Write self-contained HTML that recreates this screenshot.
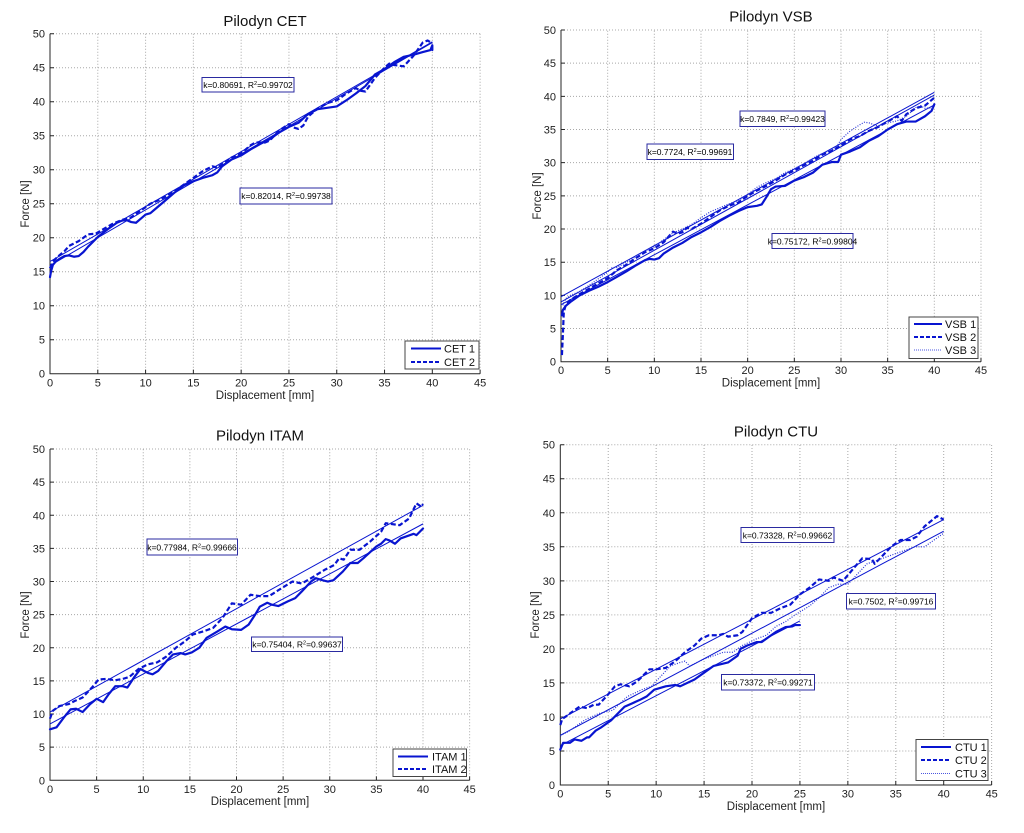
<!DOCTYPE html>
<html><head><meta charset="utf-8"><style>
html,body{margin:0;padding:0;background:#fff}
svg{display:block;font-family:"Liberation Sans",Arial,sans-serif}
.s{fill:none;stroke:#0814d0;stroke-width:2.2;vector-effect:non-scaling-stroke;stroke-linejoin:round;stroke-linecap:round}
.ds{stroke-dasharray:5 2.5;stroke-linecap:butt}
.dt{stroke-width:1.2;stroke-dasharray:1 1.5;stroke:#2a36d8;stroke-linecap:butt}
.f{fill:none;stroke:#0814d0;stroke-width:1;vector-effect:non-scaling-stroke}
.g{fill:none;stroke:#a8a8a8;stroke-width:1;stroke-dasharray:1 2;vector-effect:non-scaling-stroke}
.ax{fill:none;stroke:#262626;stroke-width:1;vector-effect:non-scaling-stroke}
.t{font-size:11px;fill:#222}
.yl text{text-anchor:end}
.xl text{text-anchor:middle}
.ti{font-size:15px;text-anchor:middle;fill:#111}
.lab{font-size:11.5px;text-anchor:middle;fill:#222}
.bx{fill:#fff;stroke:#2a2aa0;stroke-width:1}
.bt{font-size:8.5px;text-anchor:middle;fill:#000}
.lg{fill:#fff;stroke:#444;stroke-width:1}
.lt{font-size:11px;fill:#111}
</style></head><body>
<svg width="1024" height="833" viewBox="0 0 1024 833" xmlns="http://www.w3.org/2000/svg">
<rect width="1024" height="833" fill="#fff"/>

<!-- ================= TOP LEFT: CET ================= -->
<g transform="translate(50,373.7) scale(9.558,-6.8)">
<path class="g" d="M5 0V50M10 0V50M15 0V50M20 0V50M25 0V50M30 0V50M35 0V50M40 0V50M45 0V50M0 5H45M0 10H45M0 15H45M0 20H45M0 25H45M0 30H45M0 35H45M0 40H45M0 45H45M0 50H45"/>
<path class="ax" d="M0 50V0H45M5 0V0.6M10 0V0.6M15 0V0.6M20 0V0.6M25 0V0.6M30 0V0.6M35 0V0.6M40 0V0.6M45 0V0.6M0 5H0.42M0 10H0.42M0 15H0.42M0 20H0.42M0 25H0.42M0 30H0.42M0 35H0.42M0 40H0.42M0 45H0.42M0 50H0.42"/>
<path class="f" d="M0 16.5L40 48.8M0 15.9L40 48.7"/>
<polyline class="s" points="0,14.2 0.1,15 0.3,16 0.6,16.5 1,16.9 1.5,17.3 2,17.4 2.5,17.2 3,17.3 3.5,17.9 4,18.7 5,20.1 6,21.2 7,22.2 7.5,22.5 8,22.6 8.5,22.3 9,22.2 9.5,22.8 10,23.4 10.5,23.6 11,24.2 12,25.4 13,26.6 14,27.7 15,28.3 16,28.8 17,29.2 17.5,29.6 18,30.5 19,31.5 20,32.1 21,33 22,33.8 23,34.5 24,35.5 25,36.3 26,36.9 27,38.2 28,38.9 29,39.1 30,39.3 31,40.2 32,41.2 33,42.3 34,44 35,44.8 36,45.8 37,46.6 38,46.9 39,47.3 39.8,47.6 40,48.3 40,47.6"/>
<polyline class="s ds" points="0,15.5 0.3,16.5 0.8,17.2 1.5,18 2,18.8 3,19.5 4,20.5 4.8,20.6 5.5,21.2 6.5,22 7.5,22.6 8.5,23 9.5,24 10.5,25 11.5,25.6 12,26 13,26.8 14,27.8 15,28.8 16,29.8 17,30.5 17.5,30.3 18,30.8 19,31.8 20,32.4 21,33.6 21.5,34 22.5,34 23,34.3 24,35.8 25,36.7 25.5,36.2 26,36 26.5,36.5 27,37.8 28,39 29,39.8 29.5,40 30,40.2 31,41.2 32,42 32.5,41.6 33,41.5 34,43.5 35,45 35.5,45.6 36,45.4 37,45.2 38,46.7 39,48.7 39.5,49 40,48.6"/>
</g>
<g class="t yl">
<text x="45" y="377.7">0</text><text x="45" y="343.7">5</text><text x="45" y="309.7">10</text><text x="45" y="275.7">15</text><text x="45" y="241.7">20</text><text x="45" y="207.7">25</text><text x="45" y="173.7">30</text><text x="45" y="139.7">35</text><text x="45" y="105.7">40</text><text x="45" y="71.7">45</text><text x="45" y="37.7">50</text>
</g>
<g class="t xl">
<text x="50" y="386.5">0</text><text x="97.8" y="386.5">5</text><text x="145.6" y="386.5">10</text><text x="193.4" y="386.5">15</text><text x="241.2" y="386.5">20</text><text x="289" y="386.5">25</text><text x="336.7" y="386.5">30</text><text x="384.5" y="386.5">35</text><text x="432.3" y="386.5">40</text><text x="480.1" y="386.5">45</text>
</g>
<text class="ti" x="265" y="26">Pilodyn CET</text>
<text class="lab" x="265" y="399">Displacement [mm]</text>
<text class="lab" transform="translate(29,204) rotate(-90)">Force [N]</text>
<rect class="bx" x="202" y="77.5" width="92" height="14.5"/>
<text class="bt" x="248" y="88">k=0.80691, R<tspan dy="-3" font-size="5.5">2</tspan><tspan dy="3">=0.99702</tspan></text>
<rect class="bx" x="240" y="188" width="92" height="16"/>
<text class="bt" x="286" y="199">k=0.82014, R<tspan dy="-3" font-size="5.5">2</tspan><tspan dy="3">=0.99738</tspan></text>
<rect class="lg" x="405" y="341" width="74" height="28"/>
<line x1="411" y1="348.5" x2="441" y2="348.5" stroke="#0814d0" stroke-width="2"/>
<line x1="411" y1="362" x2="441" y2="362" stroke="#0814d0" stroke-width="2" stroke-dasharray="4 2"/>
<text class="lt" x="444" y="352.5">CET 1</text>
<text class="lt" x="444" y="366">CET 2</text>

<!-- ================= TOP RIGHT: VSB ================= -->
<g transform="translate(561,361.7) scale(9.333,-6.634)">
<path class="g" d="M5 0V50M10 0V50M15 0V50M20 0V50M25 0V50M30 0V50M35 0V50M40 0V50M45 0V50M0 5H45M0 10H45M0 15H45M0 20H45M0 25H45M0 30H45M0 35H45M0 40H45M0 45H45M0 50H45"/>
<path class="ax" d="M0 50V0H45M5 0V0.6M10 0V0.6M15 0V0.6M20 0V0.6M25 0V0.6M30 0V0.6M35 0V0.6M40 0V0.6M45 0V0.6M0 5H0.42M0 10H0.42M0 15H0.42M0 20H0.42M0 25H0.42M0 30H0.42M0 35H0.42M0 40H0.42M0 45H0.42M0 50H0.42"/>
<path class="f" d="M0 9.8L40 40.6M0 9.0L40 40.2M0 8.6L40 38.7"/>
<polyline class="s" points="0.1,7 0.2,7.8 0.5,8.4 1,9 2,10 3,10.7 4,11.3 5,12 6,12.8 7,13.6 8,14.5 9,15.3 9.5,15.5 10,15.4 10.5,15.6 11,16.3 12,17.2 13,17.9 14,18.8 15,19.5 16,20.3 17,21.2 18,22 19,22.7 20,23.3 21,23.5 21.5,23.7 22,24.8 22.5,26 23,26.4 24,26.5 25,27.3 26,27.8 27,28.5 28,29.7 29,30.1 29.7,30.1 30,31.2 31,31.7 32,32.3 33,33.3 34,34 35,35 36,35.8 37,36.2 38,36.2 39,37 39.7,37.8 40,38.8"/>
<polyline class="s ds" points="0.1,1 0.2,4 0.3,7.5 0.5,8.5 1,9.3 2,10.2 3,11 4,11.8 5,12.6 6,13.8 7,14.6 8,15.6 9,16.5 10,17.1 11,18 12,19.6 12.5,19.3 13,19.5 13.5,20.2 14,20 15,20.8 16,21.8 17,22.8 18,23.5 19,24 20,25 21,25.8 22,26.5 23,27.3 24,28.2 25,28.8 26,29.6 27,30.3 28,31.2 29,31.8 30,32.6 31,33.5 32,34 33,34.8 34,35.4 35,36.2 36,37 36.5,36.3 37,37.3 38,38.2 39,38.6 40,39.8"/>
<polyline class="s dt" points="0.2,8.5 0.5,9.5 1,10 2,10.6 3,11.5 4,12.5 5,13.5 5.5,14.2 6,14.2 7,15 8,15.8 9,16.7 10,17.3 11,18.4 12,19.4 13,20 14,20.7 15,21.7 16,22.6 17,23.2 18,23.8 19,24.3 20,25.2 21,26.3 22,27 23,27.6 24,28.5 25,29.1 26,29.8 27,30.7 28,31.4 29,31.9 29.5,32.3 30,33.5 31,34.8 32,35.7 32.5,36.1 33,36 34,35.5 35,36 36,36.3 37,37 38,38.3 38.5,38.6 39,38.2 40,38.3"/>
</g>
<g class="t yl">
<text x="556" y="365.7">0</text><text x="556" y="332.5">5</text><text x="556" y="299.4">10</text><text x="556" y="266.2">15</text><text x="556" y="233">20</text><text x="556" y="199.9">25</text><text x="556" y="166.7">30</text><text x="556" y="133.5">35</text><text x="556" y="100.4">40</text><text x="556" y="67.2">45</text><text x="556" y="34">50</text>
</g>
<g class="t xl">
<text x="561" y="374">0</text><text x="607.7" y="374">5</text><text x="654.3" y="374">10</text><text x="701" y="374">15</text><text x="747.6" y="374">20</text><text x="794.3" y="374">25</text><text x="841" y="374">30</text><text x="887.6" y="374">35</text><text x="934.3" y="374">40</text><text x="981" y="374">45</text>
</g>
<text class="ti" x="771" y="21.5">Pilodyn VSB</text>
<text class="lab" x="771" y="386.5">Displacement [mm]</text>
<text class="lab" transform="translate(541,196) rotate(-90)">Force [N]</text>
<rect class="bx" x="740" y="111" width="85" height="15.5"/>
<text class="bt" x="782.5" y="122">k=0.7849, R<tspan dy="-3" font-size="5.5">2</tspan><tspan dy="3">=0.99423</tspan></text>
<rect class="bx" x="647" y="144" width="86.5" height="15.5"/>
<text class="bt" x="690" y="155">k=0.7724, R<tspan dy="-3" font-size="5.5">2</tspan><tspan dy="3">=0.99691</tspan></text>
<rect class="bx" x="772" y="233.5" width="81" height="15"/>
<text class="bt" x="812.5" y="244.5">k=0.75172, R<tspan dy="-3" font-size="5.5">2</tspan><tspan dy="3">=0.99804</tspan></text>
<rect class="lg" x="909" y="317" width="69" height="41.5"/>
<line x1="914" y1="324" x2="942" y2="324" stroke="#0814d0" stroke-width="2"/>
<line x1="914" y1="337" x2="942" y2="337" stroke="#0814d0" stroke-width="2" stroke-dasharray="4 2"/>
<line x1="914" y1="350" x2="942" y2="350" stroke="#4a56e0" stroke-width="1" stroke-dasharray="1 1"/>
<text class="lt" x="945" y="328">VSB 1</text>
<text class="lt" x="945" y="341">VSB 2</text>
<text class="lt" x="945" y="354">VSB 3</text>

<!-- ================= BOTTOM LEFT: ITAM ================= -->
<g transform="translate(50,780.3) scale(9.325,-6.626)">
<path class="g" d="M5 0V50M10 0V50M15 0V50M20 0V50M25 0V50M30 0V50M35 0V50M40 0V50M45 0V50M0 5H45M0 10H45M0 15H45M0 20H45M0 25H45M0 30H45M0 35H45M0 40H45M0 45H45M0 50H45"/>
<path class="ax" d="M0 50V0H45M5 0V0.6M10 0V0.6M15 0V0.6M20 0V0.6M25 0V0.6M30 0V0.6M35 0V0.6M40 0V0.6M45 0V0.6M0 5H0.42M0 10H0.42M0 15H0.42M0 20H0.42M0 25H0.42M0 30H0.42M0 35H0.42M0 40H0.42M0 45H0.42M0 50H0.42"/>
<path class="f" d="M0 10.3L40 41.5M0 8.5L40 38.7"/>
<polyline class="s" points="0,7.7 0.7,8 1.5,9.5 2.2,10.7 2.8,10.8 3.5,10.3 4.3,11.5 5,12.3 5.7,11.8 6.3,13 7,14.2 7.8,14.2 8.3,14 9,15.5 9.7,16.8 10.5,16.2 11,16 11.6,16.5 12.5,18 13.2,19 14,19.2 14.5,19 15.2,19.3 16,20 16.8,21.5 18,22.5 18.8,23.2 19.5,22.8 20.5,22.7 21.3,23.5 22,25 22.5,26.2 23.3,26.8 23.8,26.5 24.5,26.3 25.5,27 26.3,27.5 27,28.5 28,30 28.5,30.5 29.2,30.2 29.8,30 30.4,30.2 31.4,31.5 32.2,32.8 33,32.8 33.6,33.5 35,35.3 35.5,35.7 36,36.4 36.4,36.2 37,35.7 37.6,36.5 38.2,36.8 39,37.2 39.3,37 40,38"/>
<polyline class="s ds" points="0,9.3 0.3,10.5 1,11.2 2,11.5 2.7,12 3.5,12.5 4.5,14 5.2,15.2 6,15.3 7,15.1 7.8,15.3 8.5,15.6 9.5,16.8 10.5,17.5 11.5,17.8 12.5,18.7 13.5,20 14.5,21 15.3,22 16.5,22.5 17.5,23 18.5,24.5 19.5,26.7 20.5,26.5 21.5,28 22.5,27.8 23.5,27.8 24.5,28.7 26,30 27,29.7 28,30.5 29.5,31.8 30.5,32.5 31,33.5 31.5,33.3 32.2,34.8 33.2,34.8 34.3,36 35.5,37.5 36,38.8 37.5,38.5 38.5,39.5 39.3,41.8 39.8,41.3 40,41.7"/>
</g>
<g class="t yl">
<text x="45" y="784.3">0</text><text x="45" y="751.2">5</text><text x="45" y="718">10</text><text x="45" y="684.9">15</text><text x="45" y="651.8">20</text><text x="45" y="618.6">25</text><text x="45" y="585.5">30</text><text x="45" y="552.4">35</text><text x="45" y="519.3">40</text><text x="45" y="486.1">45</text><text x="45" y="453">50</text>
</g>
<g class="t xl">
<text x="50" y="793">0</text><text x="96.6" y="793">5</text><text x="143.3" y="793">10</text><text x="189.9" y="793">15</text><text x="236.5" y="793">20</text><text x="283.1" y="793">25</text><text x="329.8" y="793">30</text><text x="376.4" y="793">35</text><text x="423" y="793">40</text><text x="469.6" y="793">45</text>
</g>
<text class="ti" x="260" y="440.5">Pilodyn ITAM</text>
<text class="lab" x="260" y="805">Displacement [mm]</text>
<text class="lab" transform="translate(29,615) rotate(-90)">Force [N]</text>
<rect class="bx" x="147" y="539" width="90.5" height="16"/>
<text class="bt" x="192" y="550.5">k=0.77984, R<tspan dy="-3" font-size="5.5">2</tspan><tspan dy="3">=0.99666</tspan></text>
<rect class="bx" x="251.5" y="637" width="91" height="14.5"/>
<text class="bt" x="297" y="647.5">k=0.75404, R<tspan dy="-3" font-size="5.5">2</tspan><tspan dy="3">=0.99637</tspan></text>
<rect class="lg" x="393" y="749" width="73.5" height="27.5"/>
<line x1="398" y1="756.5" x2="428" y2="756.5" stroke="#0814d0" stroke-width="2"/>
<line x1="398" y1="769" x2="428" y2="769" stroke="#0814d0" stroke-width="2" stroke-dasharray="4 2"/>
<text class="lt" x="432" y="760.5">ITAM 1</text>
<text class="lt" x="432" y="773">ITAM 2</text>

<!-- ================= BOTTOM RIGHT: CTU ================= -->
<g transform="translate(560.3,785) scale(9.585,-6.806)">
<path class="g" d="M5 0V50M10 0V50M15 0V50M20 0V50M25 0V50M30 0V50M35 0V50M40 0V50M45 0V50M0 5H45M0 10H45M0 15H45M0 20H45M0 25H45M0 30H45M0 35H45M0 40H45M0 45H45M0 50H45"/>
<path class="ax" d="M0 50V0H45M5 0V0.6M10 0V0.6M15 0V0.6M20 0V0.6M25 0V0.6M30 0V0.6M35 0V0.6M40 0V0.6M45 0V0.6M0 5H0.42M0 10H0.42M0 15H0.42M0 20H0.42M0 25H0.42M0 30H0.42M0 35H0.42M0 40H0.42M0 45H0.42M0 50H0.42"/>
<path class="f" d="M0 9.7L40 39.0M0 7.3L40 37.3M0 5.8L25 24.1"/>
<polyline class="s" points="0,5.2 0.3,6.2 1,6.2 1.5,6.7 2.2,6.5 2.8,7 3,7 3.7,8 4.3,8.5 5.3,9.5 6,10.5 6.7,11.5 7.5,12 8.3,12.5 9,13 9.8,14 11,14.5 12,14.7 12.5,14.5 14,15.5 15,16.5 16,17.5 17.5,18 18.5,19 18.8,20 19.5,20.5 20.5,21 21,21 22,22 22.5,22.5 23.5,23.2 24.2,23.3 24.5,23.5 25,23.5"/>
<polyline class="s ds" points="0,8.8 0.2,9.7 1,10.5 2,11.5 2.8,11.3 3.5,11.8 4,11.8 4.8,13 5.7,14.5 6.3,14.8 7.2,14.5 8,15.2 9.3,17 10,17 11,17.2 12,18.2 13,19.5 14,20.5 14.7,21.5 15.5,22 16.5,22 17,22.2 17.5,21.8 18.5,22 19,22.5 20,24.5 21,25.3 22,25.3 23,26 24,26.5 25,28 26,29 27,30.2 28,30 28.5,30.5 29.5,30 30.7,32 31.5,33.3 32.5,33.2 32.8,32.5 33.5,33.5 34.5,35 35.5,36 36.5,36 37.2,36.5 38,38 39.3,39.5 40,39"/>
<polyline class="s dt" points="0,7.2 1,8 2.5,9.5 4,10.5 5.5,11 7,13 8.5,14 9.5,14.5 10.5,16 11.5,17.5 12.5,18 13,18.2 13.5,17.5 15,18.5 17,19.5 18,19.5 19,20.5 20.5,21.5 21.5,22 22.5,23.3 23.5,24 24.5,25 26,26.3 27,27.5 28,29 29,29.5 30,29.5 31,31 32,32.5 33,33 34,33.5 36,34.5 37,35 38,35 39.5,36.5 40,37"/>
</g>
<g class="t yl">
<text x="555" y="789">0</text><text x="555" y="755">5</text><text x="555" y="720.9">10</text><text x="555" y="686.9">15</text><text x="555" y="652.9">20</text><text x="555" y="618.9">25</text><text x="555" y="584.8">30</text><text x="555" y="550.8">35</text><text x="555" y="516.8">40</text><text x="555" y="482.7">45</text><text x="555" y="448.7">50</text>
</g>
<g class="t xl">
<text x="560.3" y="797.5">0</text><text x="608.2" y="797.5">5</text><text x="656.2" y="797.5">10</text><text x="704.1" y="797.5">15</text><text x="752" y="797.5">20</text><text x="799.9" y="797.5">25</text><text x="847.9" y="797.5">30</text><text x="895.8" y="797.5">35</text><text x="943.7" y="797.5">40</text><text x="991.7" y="797.5">45</text>
</g>
<text class="ti" x="776" y="436.5">Pilodyn CTU</text>
<text class="lab" x="776" y="810">Displacement [mm]</text>
<text class="lab" transform="translate(539,615) rotate(-90)">Force [N]</text>
<rect class="bx" x="741" y="527.5" width="93" height="15"/>
<text class="bt" x="787.5" y="538.5">k=0.73328, R<tspan dy="-3" font-size="5.5">2</tspan><tspan dy="3">=0.99662</tspan></text>
<rect class="bx" x="846.5" y="593.5" width="89" height="15.5"/>
<text class="bt" x="891" y="604.5">k=0.7502, R<tspan dy="-3" font-size="5.5">2</tspan><tspan dy="3">=0.99716</tspan></text>
<rect class="bx" x="721.5" y="674.5" width="93" height="15.5"/>
<text class="bt" x="768" y="685.5">k=0.73372, R<tspan dy="-3" font-size="5.5">2</tspan><tspan dy="3">=0.99271</tspan></text>
<rect class="lg" x="916" y="739.5" width="72" height="41"/>
<line x1="921" y1="747" x2="951" y2="747" stroke="#0814d0" stroke-width="2"/>
<line x1="921" y1="760" x2="951" y2="760" stroke="#0814d0" stroke-width="2" stroke-dasharray="4 2"/>
<line x1="921" y1="773.5" x2="951" y2="773.5" stroke="#4a56e0" stroke-width="1" stroke-dasharray="1 1"/>
<text class="lt" x="955" y="751">CTU 1</text>
<text class="lt" x="955" y="764">CTU 2</text>
<text class="lt" x="955" y="777.5">CTU 3</text>
</svg>
</body></html>
